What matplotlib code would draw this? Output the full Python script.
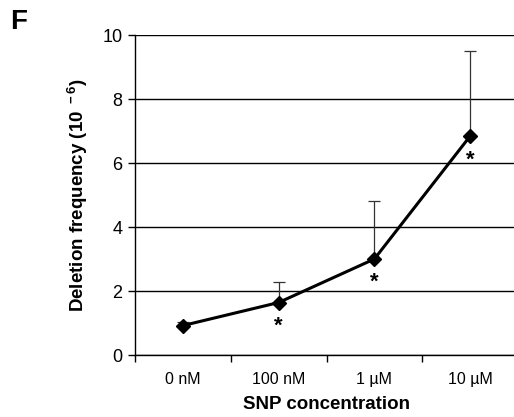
import numpy as np
import matplotlib.pyplot as plt

plt.rcParams['font.family'] = ['Liberation Sans', 'DejaVu Sans']
plt.rcParams['mathtext.default'] = 'regular'

labels = ['0 nM', '100 nM', '1 \u00b5M', '10 \u00b5M']
freq = [0.92, 1.64, 3.0, 6.84]
err_up = [0.12, 0.65, 1.8, 2.66]
signif = [False, True, True, True]

fig = plt.figure(figsize=(5.14, 4.17), dpi=100)
ax = fig.add_axes([135/514, 62/417, 383/514, 320/417])

x = np.arange(len(labels))
ax.errorbar(x, freq, yerr=[np.zeros(len(x)), err_up], fmt='none',
            ecolor='#333333', elinewidth=0.9, capsize=4, capthick=0.9, zorder=3)
ax.plot(x, freq, color='black', lw=2.2, marker='D', markersize=7, zorder=4)
for i in range(len(x)):
    if signif[i]:
        ax.annotate('*', (x[i], freq[i]), xytext=(0, -17), textcoords='offset points',
                    ha='center', va='center', fontsize=16, fontweight='bold')

ax.set_xlim(-0.5, 3.5)
ax.set_ylim(0, 10)
ax.set_yticks([0, 2, 4, 6, 8, 10])
ax.yaxis.grid(True, color='black', lw=1)
ax.set_axisbelow(True)
ax.set_xticks(np.arange(-0.5, 3.6, 1.0))
ax.set_xticklabels([])
ax.set_xticks(x, minor=True)
ax.set_xticklabels(labels, minor=True, fontsize=11.5)
ax.tick_params(axis='x', which='minor', length=0, pad=12)
ax.tick_params(axis='x', which='major', length=5, direction='out', width=1)
ax.tick_params(axis='y', length=5, width=1, labelsize=13, pad=4)
for s in ['top', 'right']:
    ax.spines[s].set_visible(False)
ax.spines['left'].set_linewidth(1)
ax.spines['bottom'].set_linewidth(1)

ax.set_xlabel('SNP concentration', fontsize=13.5, fontweight='bold', labelpad=7)
ax.set_ylabel('Deletion frequency (10$^{\\ -6}$)', fontsize=13.5, fontweight='bold', labelpad=9)
fig.text(10/514, 1 - 29/417, 'F', fontsize=20, fontweight='bold')

fig.savefig('out.png', dpi=100)
